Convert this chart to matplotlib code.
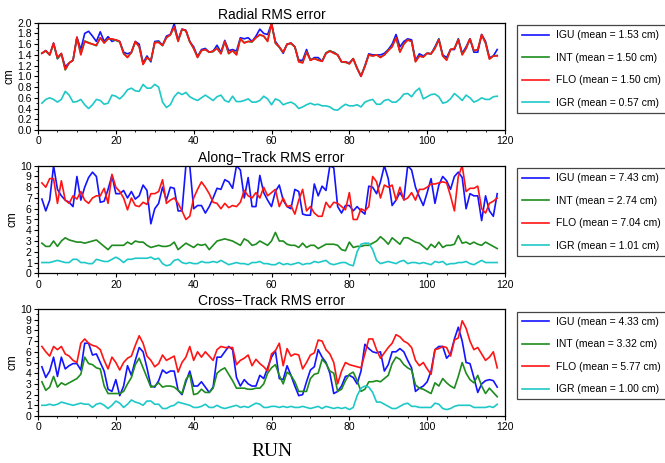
import numpy as np
import matplotlib
matplotlib.use('Agg')
import matplotlib.pyplot as plt
from matplotlib.ticker import MultipleLocator

plt.rcParams['font.family'] = ['Liberation Sans', 'DejaVu Sans']

# Radial RMS error (cm), runs 1..118
rad_igu = [1.43, 1.48, 1.40, 1.62, 1.33, 1.42, 1.18, 1.25, 1.30, 1.73,
           1.50, 1.80, 1.84, 1.75, 1.65, 1.83, 1.65, 1.74, 1.65, 1.68,
           1.65, 1.45, 1.42, 1.45, 1.65, 1.60, 1.25, 1.38, 1.27, 1.65,
           1.66, 1.58, 1.75, 1.78, 1.98, 1.68, 1.88, 1.86, 1.65, 1.55,
           1.37, 1.50, 1.52, 1.45, 1.47, 1.58, 1.45, 1.67, 1.48, 1.50,
           1.47, 1.72, 1.70, 1.72, 1.65, 1.75, 1.88, 1.80, 1.78, 1.98,
           1.65, 1.55, 1.43, 1.60, 1.62, 1.55, 1.30, 1.30, 1.50, 1.30,
           1.35, 1.35, 1.28, 1.43, 1.47, 1.45, 1.40, 1.27, 1.27, 1.25,
           1.33, 1.15, 1.00, 1.20, 1.42, 1.40, 1.40, 1.40, 1.43, 1.50,
           1.60, 1.78, 1.55, 1.65, 1.70, 1.68, 1.30, 1.42, 1.38, 1.43,
           1.42, 1.55, 1.70, 1.40, 1.35, 1.50, 1.50, 1.70, 1.43, 1.55,
           1.70, 1.45, 1.45, 1.78, 1.65, 1.35, 1.38, 1.50]
rad_int = [1.43, 1.47, 1.40, 1.60, 1.33, 1.42, 1.12, 1.25, 1.30, 1.72,
           1.42, 1.66, 1.63, 1.60, 1.57, 1.72, 1.63, 1.70, 1.69, 1.67,
           1.64, 1.43, 1.36, 1.44, 1.64, 1.56, 1.23, 1.35, 1.29, 1.63,
           1.64, 1.57, 1.72, 1.77, 1.92, 1.66, 1.87, 1.85, 1.64, 1.52,
           1.36, 1.48, 1.50, 1.45, 1.46, 1.53, 1.43, 1.65, 1.42, 1.48,
           1.41, 1.70, 1.63, 1.65, 1.64, 1.72, 1.77, 1.75, 1.66, 1.98,
           1.62, 1.54, 1.45, 1.60, 1.61, 1.55, 1.28, 1.26, 1.46, 1.31,
           1.33, 1.31, 1.28, 1.44, 1.48, 1.44, 1.40, 1.27, 1.26, 1.24,
           1.33, 1.15, 1.01, 1.19, 1.40, 1.38, 1.40, 1.36, 1.40, 1.48,
           1.56, 1.72, 1.46, 1.60, 1.68, 1.65, 1.28, 1.38, 1.36, 1.43,
           1.42, 1.53, 1.69, 1.38, 1.31, 1.50, 1.52, 1.69, 1.41, 1.52,
           1.70, 1.48, 1.50, 1.77, 1.62, 1.33, 1.38, 1.39]
rad_flo = [1.43, 1.48, 1.40, 1.62, 1.35, 1.43, 1.13, 1.25, 1.30, 1.73,
           1.40, 1.65, 1.62, 1.60, 1.58, 1.72, 1.62, 1.70, 1.70, 1.68,
           1.65, 1.42, 1.35, 1.45, 1.65, 1.55, 1.22, 1.35, 1.30, 1.63,
           1.63, 1.58, 1.72, 1.78, 1.92, 1.65, 1.88, 1.85, 1.65, 1.52,
           1.35, 1.48, 1.50, 1.45, 1.47, 1.52, 1.42, 1.65, 1.43, 1.48,
           1.40, 1.70, 1.62, 1.65, 1.65, 1.72, 1.78, 1.75, 1.65, 2.00,
           1.62, 1.55, 1.45, 1.60, 1.62, 1.55, 1.27, 1.25, 1.45, 1.30,
           1.33, 1.30, 1.28, 1.43, 1.47, 1.43, 1.40, 1.27, 1.27, 1.23,
           1.33, 1.15, 1.00, 1.18, 1.40, 1.38, 1.40, 1.35, 1.40, 1.48,
           1.55, 1.72, 1.45, 1.60, 1.68, 1.65, 1.27, 1.38, 1.36, 1.43,
           1.42, 1.52, 1.68, 1.38, 1.30, 1.50, 1.52, 1.68, 1.40, 1.52,
           1.70, 1.48, 1.50, 1.78, 1.62, 1.32, 1.38, 1.38]
rad_igr = [0.50, 0.57, 0.60, 0.57, 0.52, 0.57, 0.72, 0.65, 0.52, 0.53,
           0.57, 0.47, 0.40, 0.47, 0.57, 0.55, 0.48, 0.50, 0.65, 0.63,
           0.58, 0.65, 0.75, 0.78, 0.73, 0.72, 0.85, 0.78, 0.78, 0.85,
           0.80, 0.52, 0.42, 0.47, 0.62, 0.70, 0.66, 0.70, 0.62, 0.58,
           0.55, 0.60, 0.65, 0.60, 0.55, 0.62, 0.65, 0.55, 0.52, 0.63,
           0.53, 0.53, 0.55, 0.58, 0.52, 0.52, 0.55, 0.63, 0.58, 0.47,
           0.58, 0.55, 0.47, 0.50, 0.52, 0.48, 0.40, 0.43, 0.47, 0.50,
           0.47, 0.48, 0.45, 0.45, 0.43, 0.38, 0.37, 0.43, 0.48, 0.45,
           0.45, 0.47, 0.43, 0.52, 0.55, 0.57, 0.48, 0.48, 0.55, 0.57,
           0.52, 0.52, 0.58, 0.67, 0.68, 0.62, 0.72, 0.78, 0.58, 0.62,
           0.66, 0.67, 0.62, 0.50, 0.52, 0.58, 0.68, 0.62, 0.55, 0.65,
           0.60, 0.52, 0.55, 0.60, 0.57, 0.57, 0.62, 0.63]

# Along-Track RMS error (cm)
alo_igu = [6.9, 5.8, 6.8, 10.0, 7.8, 7.2, 6.8, 6.6, 6.2, 9.0,
           6.8, 8.0, 8.9, 9.4, 9.0, 6.6, 6.7, 7.8, 9.1, 7.4,
           7.4, 7.7, 7.0, 7.6, 6.9, 7.2, 8.2, 7.7, 4.6, 6.0,
           6.5, 8.0, 6.8, 8.0, 7.9, 5.8, 5.8, 10.0, 10.0, 6.0,
           6.3, 6.3, 5.6, 6.2, 7.0, 7.9, 7.8, 8.7, 8.5, 7.9,
           10.0, 9.6, 7.0, 8.9, 6.2, 6.2, 9.1, 7.5, 6.8, 6.2,
           7.6, 8.2, 6.8, 6.2, 6.0, 7.8, 7.6, 5.5, 5.4, 5.4,
           8.3, 7.2, 8.1, 7.7, 10.0, 9.8, 6.2, 5.6, 6.3, 6.3,
           5.8, 6.2, 5.8, 5.5, 8.1, 8.0, 7.4, 8.5, 10.0, 8.8,
           6.3, 6.8, 7.5, 6.9, 10.0, 9.6, 8.0, 7.1, 6.3, 7.5,
           8.8, 6.5, 8.2, 9.0, 8.6, 7.8, 9.0, 9.4, 8.9, 6.0,
           7.4, 7.2, 7.2, 4.9, 7.2, 5.8, 5.3, 7.4]
alo_int = [2.8, 2.5, 2.5, 3.0, 2.5, 3.0, 3.3, 3.1, 3.0, 2.9,
           2.9, 2.8, 2.9, 3.0, 3.1, 2.8, 2.5, 2.2, 2.6, 2.6,
           2.6, 2.6, 2.9, 2.7, 3.0, 2.9, 2.9, 2.6, 2.4, 2.5,
           2.6, 2.5, 2.5, 2.6, 2.9, 2.2, 2.5, 2.8, 2.6, 2.4,
           2.7, 2.6, 2.7, 2.2, 2.6, 3.0, 3.1, 3.2, 3.1, 3.0,
           2.8, 2.6, 3.2, 3.0, 2.6, 2.7, 3.0, 2.8, 2.6, 3.0,
           3.8, 3.0, 3.0, 2.7, 2.6, 2.6, 2.4, 2.8, 2.4, 2.6,
           2.6, 2.3, 2.5, 2.7, 2.7, 2.7, 2.6, 2.2, 2.1, 2.9,
           2.4, 2.5, 2.5, 2.6, 2.6, 2.8, 3.0, 3.4, 3.1, 2.7,
           3.3, 3.0, 2.7, 3.3, 3.3, 3.1, 2.9, 2.8, 2.5, 2.2,
           2.7, 2.4, 2.9, 2.4, 2.6, 2.6, 2.7, 3.5, 2.8, 2.9,
           2.7, 2.9, 2.7, 2.6, 2.9, 2.7, 2.5, 2.3]
alo_flo = [8.4, 8.0, 8.8, 8.8, 6.5, 8.6, 6.8, 6.5, 7.2, 6.9,
           7.6, 6.8, 6.5, 7.0, 7.2, 7.2, 7.9, 6.5, 9.2, 8.0,
           7.6, 7.0, 5.9, 7.0, 6.3, 6.2, 6.6, 6.4, 7.4, 7.4,
           7.6, 8.7, 6.5, 6.8, 7.0, 6.5, 5.8, 5.0, 5.3, 7.0,
           7.8, 8.5, 8.0, 7.4, 6.6, 6.5, 6.0, 6.5, 6.1, 6.3,
           6.2, 6.6, 7.7, 7.2, 7.0, 7.5, 7.0, 8.0, 7.2, 7.5,
           7.8, 6.2, 7.0, 6.2, 6.3, 5.5, 6.8, 7.8, 5.8, 6.2,
           5.6, 5.3, 5.3, 6.6, 6.1, 6.6, 6.5, 6.2, 5.9, 7.5,
           5.0, 5.0, 6.0, 5.8, 6.2, 9.0, 8.5, 7.0, 8.2, 8.0,
           8.2, 6.8, 8.0, 6.8, 7.0, 7.5, 6.8, 7.8, 7.8, 8.0,
           8.3, 8.3, 8.4, 8.5, 8.4, 7.2, 5.8, 9.0, 10.0, 7.6,
           7.9, 7.9, 8.1, 6.0, 5.6, 6.5, 6.7, 7.0]
alo_igr = [1.0, 1.0, 1.0, 1.1, 1.2, 1.1, 1.0, 1.0, 1.3, 1.3,
           1.0, 1.0, 0.9, 0.9, 1.3, 1.2, 1.1, 1.1, 1.3, 1.5,
           1.3, 1.0, 1.3, 1.3, 1.4, 1.4, 1.4, 1.4, 1.5, 1.3,
           1.4, 0.9, 0.7, 0.8, 1.2, 1.3, 1.0, 0.9, 1.0, 0.9,
           0.9, 1.1, 1.0, 1.0, 1.1, 1.0, 1.2, 1.0, 0.8, 0.9,
           1.0, 0.9, 0.9, 0.8, 1.0, 1.0, 1.1, 0.9, 0.9, 0.8,
           0.8, 1.0, 0.8, 0.9, 0.8, 0.9, 1.0, 0.8, 0.9, 0.9,
           1.1, 1.0, 1.1, 1.2, 0.9, 0.8, 0.9, 1.0, 1.0, 0.8,
           0.7, 2.0, 2.7, 2.8, 2.8, 2.2, 1.2, 0.9, 1.0, 1.1,
           1.0, 0.9, 1.1, 1.2, 0.9, 1.0, 1.0, 0.9, 1.0, 0.9,
           0.8, 1.1, 1.0, 1.1, 0.8, 0.9, 0.9, 1.0, 1.0, 1.1,
           0.9, 0.8, 1.0, 1.2, 1.0, 1.0, 1.0, 1.0]

# Cross-Track RMS error (cm)
crs_igu = [4.6, 3.6, 4.2, 5.5, 3.7, 5.5, 4.4, 4.7, 4.9, 4.9,
           4.3, 6.8, 6.8, 5.7, 5.8, 5.0, 4.2, 2.5, 2.3, 3.4,
           1.9, 2.8, 4.7, 3.8, 5.2, 6.4, 6.0, 4.5, 2.8, 2.7,
           3.3, 4.3, 4.0, 4.2, 4.2, 2.4, 2.0, 3.2, 4.2, 2.8,
           2.8, 3.2, 2.7, 2.2, 2.7, 5.5, 5.5, 6.0, 6.5, 6.2,
           3.6, 2.8, 3.4, 3.0, 2.8, 2.8, 3.8, 3.5, 4.5, 5.5,
           6.1, 3.5, 3.4, 4.7, 3.8, 2.8, 1.9, 2.0, 3.2, 4.3,
           4.6, 6.2, 5.5, 5.0, 4.0, 2.1, 2.3, 2.8, 3.7, 3.8,
           3.6, 3.0, 4.2, 6.7, 6.3, 6.0, 5.9, 6.0, 4.2, 4.8,
           6.0, 6.0, 6.3, 6.0, 5.2, 4.5, 2.3, 2.6, 2.8, 3.2,
           4.2, 6.2, 6.5, 6.5, 5.4, 5.8, 7.2, 8.3, 7.0, 5.0,
           4.9, 3.6, 2.2, 3.0, 3.3, 3.4, 3.3, 2.7]
crs_int = [3.2, 2.4, 2.7, 3.7, 2.7, 3.1, 2.9, 3.1, 3.3, 3.5,
           3.9, 5.5, 4.9, 4.8, 4.5, 4.4, 2.8, 2.1, 2.1, 2.1,
           2.1, 2.3, 3.0, 3.6, 4.8, 5.4, 4.5, 3.6, 2.7, 2.8,
           3.1, 2.7, 2.8, 2.8, 2.7, 2.4, 2.1, 3.4, 3.9, 2.0,
           2.1, 2.5, 2.2, 2.2, 2.6, 4.0, 4.3, 4.5, 3.9, 3.3,
           2.6, 2.6, 2.6, 2.5, 2.5, 2.6, 2.6, 3.0, 4.0, 4.5,
           4.8, 3.8, 3.0, 4.1, 3.8, 3.2, 2.3, 2.3, 2.3, 3.5,
           3.9, 4.0, 5.3, 4.9, 4.2, 4.0, 2.3, 2.5, 3.3, 3.9,
           4.1, 3.3, 2.3, 2.5, 3.2, 3.2, 3.3, 3.2, 3.5, 3.8,
           4.9, 5.5, 5.3, 4.8, 4.5, 4.3, 2.9, 2.6, 2.5, 2.3,
           2.1, 3.1, 2.8, 3.5, 3.1, 2.8, 2.6, 3.7, 5.0, 4.0,
           3.4, 3.1, 3.8, 2.8, 2.1, 2.6, 2.2, 1.8]
crs_flo = [6.5, 6.0, 5.6, 6.5, 6.2, 6.5, 5.8, 5.6, 5.2, 5.0,
           6.8, 7.2, 6.8, 6.6, 6.5, 6.2, 5.2, 4.4, 5.5, 5.0,
           4.3, 5.0, 5.4, 5.6, 6.6, 7.5, 6.8, 5.6, 5.2, 4.6,
           4.9, 5.7, 5.2, 5.4, 5.6, 4.1, 5.0, 5.5, 6.5, 5.2,
           6.0, 5.5, 6.0, 5.6, 5.2, 6.2, 6.5, 6.4, 6.4, 6.4,
           4.8, 5.2, 5.4, 5.7, 4.7, 5.3, 4.9, 4.6, 4.2, 5.8,
           6.1, 6.8, 4.7, 6.3, 5.6, 5.8, 5.7, 4.4, 5.0, 5.7,
           5.9, 7.1, 7.0, 6.2, 5.8, 5.0, 3.0, 4.2, 5.0, 4.8,
           4.7, 4.6, 4.5, 5.8, 7.2, 7.2, 6.2, 5.4, 5.9, 6.4,
           6.8, 7.6, 7.4, 7.0, 6.8, 6.4, 5.2, 4.7, 5.0, 4.4,
           3.9, 6.2, 6.3, 6.5, 6.4, 5.6, 7.1, 7.3, 8.9, 8.2,
           7.0, 6.2, 6.4, 5.8, 5.2, 5.5, 6.0, 4.5]
crs_igr = [1.0, 1.0, 1.1, 1.0, 1.1, 1.3, 1.2, 1.1, 1.0, 1.1,
           1.2, 1.1, 1.1, 0.8, 1.1, 1.2, 1.0, 0.7, 1.0, 1.4,
           1.2, 0.8, 1.1, 1.5, 1.3, 1.2, 1.0, 1.4, 1.4, 1.1,
           1.1, 0.7, 0.7, 0.9, 1.0, 1.3, 1.2, 1.1, 1.0, 0.8,
           0.8, 0.9, 1.1, 0.8, 0.8, 1.0, 0.8, 0.7, 0.8, 0.9,
           1.0, 0.8, 0.9, 0.8, 1.0, 1.2, 1.1, 0.8, 0.8, 0.9,
           0.9, 0.8, 0.9, 0.8, 0.9, 0.8, 0.8, 0.9, 0.8, 0.7,
           0.8, 0.9, 0.7, 0.9, 0.8, 0.7, 0.8, 0.7, 0.8, 0.6,
           0.8, 1.9, 2.6, 2.8, 2.7, 2.2, 1.3, 1.3, 1.1, 0.9,
           0.7, 0.7, 0.9, 1.1, 1.2, 0.9, 0.9, 0.8, 0.8, 0.8,
           0.8, 1.2, 1.1, 0.7, 0.6, 0.7, 0.9, 1.0, 1.0, 1.0,
           1.0, 0.8, 0.8, 0.8, 0.8, 0.9, 0.8, 1.1]

names = ['IGU', 'INT', 'FLO', 'IGR']
colors = ['#1414ff', '#1e8c1e', '#ff1414', '#1ec8c8']

panels = [
    ('Radial RMS error', [rad_igu, rad_int, rad_flo, rad_igr],
     [1.53, 1.50, 1.50, 0.57], 2.0, 0.2, 0.1, '%.1f'),
    ('Along\u2212Track RMS error', [alo_igu, alo_int, alo_flo, alo_igr],
     [7.43, 2.74, 7.04, 1.01], 10, 1, 0.5, '%d'),
    ('Cross\u2212Track RMS error', [crs_igu, crs_int, crs_flo, crs_igr],
     [4.33, 3.32, 5.77, 1.00], 10, 1, 0.5, '%d'),
]

fig = plt.figure(figsize=(6.65, 4.63), dpi=100)

# axes boxes in pixel rows (top, bottom)
boxes = [(22.7, 130.0), (165.7, 273.3), (309.0, 416.0)]
left, right = 38.0, 505.0
W, H = 665.0, 463.0

for (title, series, means, ymax, ymaj, ymin, fmt), (top, bot) in zip(panels, boxes):
    ax = fig.add_axes([left / W, 1 - bot / H, (right - left) / W, (bot - top) / H])
    handles = []
    for s, c, n, m in zip(series, colors, names, means):
        x = np.arange(1, len(s) + 1)
        h, = ax.plot(x, s, color=c, lw=1.2, label=f'{n} (mean = {m:.2f} cm)')
        handles.append(h)
    ax.set_xlim(0, 120)
    ax.set_ylim(0, ymax)
    ax.xaxis.set_major_locator(MultipleLocator(20))
    ax.xaxis.set_minor_locator(MultipleLocator(5))
    ax.yaxis.set_major_locator(MultipleLocator(ymaj))
    ax.yaxis.set_minor_locator(MultipleLocator(ymin))
    ax.yaxis.set_major_formatter(matplotlib.ticker.FormatStrFormatter(fmt))
    ax.tick_params(which='major', length=3, width=0.8, labelsize=7.5, pad=1.5)
    ax.tick_params(which='minor', length=1.5, width=0.6)
    for sp in ax.spines.values():
        sp.set_linewidth(0.9)
    ax.set_title(title, fontsize=10, pad=3)
    ax.set_ylabel('cm', fontsize=8.5, labelpad=1)
    leg = ax.legend(handles=handles, loc='upper left',
                    bbox_to_anchor=((517 - left) / (right - left), (bot - top - 2.5) / (bot - top)),
                    borderaxespad=0, fontsize=7.5, frameon=True, fancybox=False,
                    framealpha=1, edgecolor='#444444', handlelength=2.6,
                    labelspacing=1.2, borderpad=0.5, handletextpad=0.6)
    leg.get_frame().set_linewidth(0.9)

fig.text(272 / W, 1 - 452 / H, 'RUN', family='Liberation Serif', fontsize=14,
         ha='center', va='center')

fig.savefig('out.png', dpi=100)
